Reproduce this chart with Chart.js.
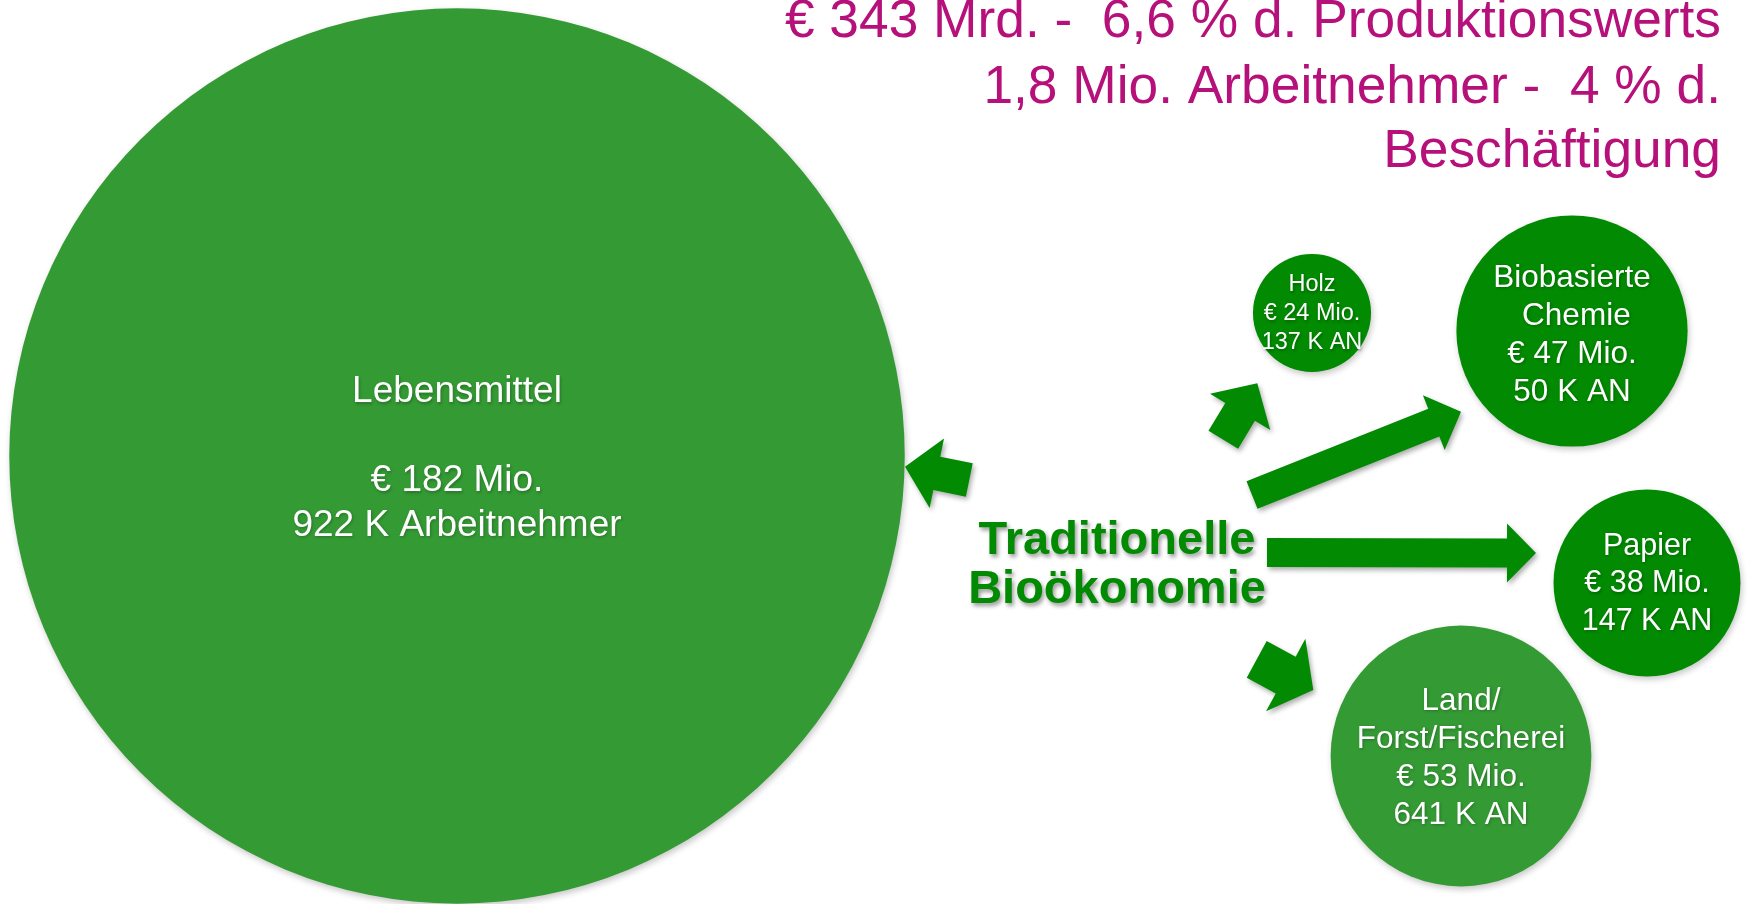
<!DOCTYPE html>
<html>
<head>
<meta charset="utf-8">
<script src="https://cdn.jsdelivr.net/npm/chart.js@4/dist/chart.umd.min.js"></script>
<style>
  html, body { margin: 0; padding: 0; background: #ffffff; overflow: hidden; }
  #c { display: block; }
</style>
</head>
<body>
<canvas id="c" width="1747" height="904"></canvas>
<script>
// ---------- DATA ----------
const sectors = ["Lebensmittel", "Holz", "Biobasierte\n Chemie", "Papier", "Land/\nForst/Fischerei"];
const valueMioEUR = [182, 24, 47, 38, 53];
const employeesK = [922, 137, 50, 147, 641];
const employeeUnit = ["K Arbeitnehmer", "K AN", "K AN", "K AN", "K AN"];
const titleLines = ["€ 343 Mrd. -  6,6 % d. Produktionswerts", "1,8 Mio. Arbeitnehmer -  4 % d.", "Beschäftigung"];
const centerLabel = ["Traditionelle", "Bioökonomie"];

// ---------- LAYOUT (positions / styles) ----------
const bubbleCenters = [[457, 456], [1312, 313], [1572, 331], [1647, 583], [1461, 756]];
const radiusPerMio = 2.46;
const bubbleColors = ["#349a34", "#028a02", "#028a02", "#028a02", "#349a34"];
const labelFont = [37, 23.5, 31.5, 30.5, 31.5];
const labelLineH = [44.5, 29, 38, 37.5, 38];
const labelDy = [3, 1, 4, 1, 2];
const blankAfterName = [true, false, false, false, false];
// arrows: tailX, tailY, tipX, tipY, shaftWidth, headWidth, headLength
const arrows = [
  [969.3, 480.0, 905.0, 466.7, 34, 71, 32.5],
  [1223.3, 439.7, 1257.3, 383.3, 34.6, 70.4, 33.3],
  [1252.0, 495.0, 1461.0, 411.7, 29.8, 58.9, 29.3],
  [1267.0, 552.5, 1536.0, 553.0, 29, 59, 29],
  [1256.7, 659.3, 1313.3, 690.0, 41.8, 82.4, 31.4]
];
const FONT = "'Liberation Sans', Arial, sans-serif";
const arrowColor = "#028a02";
const titleColor = "#b6107a";

const bubbleData = sectors.map((s, i) => ({
  x: bubbleCenters[i][0],
  y: bubbleCenters[i][1],
  r: valueMioEUR[i] * radiusPerMio
}));

const decor = {
  id: 'decor',
  beforeDatasetsDraw(chart) {
    const ctx = chart.ctx;
    ctx.save();
    ctx.shadowColor = 'rgba(0,0,0,0.22)';
    ctx.shadowBlur = 6;
    ctx.shadowOffsetX = 1.5;
    ctx.shadowOffsetY = 3;
  },
  afterDatasetsDraw(chart) {
    const ctx = chart.ctx;
    ctx.restore();
    const xs = chart.scales.x, ys = chart.scales.y;

    // arrows
    ctx.save();
    ctx.fillStyle = arrowColor;
    ctx.shadowColor = 'rgba(0,0,0,0.32)';
    ctx.shadowBlur = 5;
    ctx.shadowOffsetX = 2;
    ctx.shadowOffsetY = 3;
    arrows.forEach(a => {
      const tx = xs.getPixelForValue(a[0]), ty = ys.getPixelForValue(a[1]);
      const px = xs.getPixelForValue(a[2]), py = ys.getPixelForValue(a[3]);
      const dx = px - tx, dy = py - ty, L = Math.hypot(dx, dy);
      const ux = dx / L, uy = dy / L, nx = -uy, ny = ux;
      const sw = a[4] / 2, hw = a[5] / 2, hl = a[6];
      const bx = px - ux * hl, by = py - uy * hl;
      ctx.beginPath();
      ctx.moveTo(tx + nx * sw, ty + ny * sw);
      ctx.lineTo(bx + nx * sw, by + ny * sw);
      ctx.lineTo(bx + nx * hw, by + ny * hw);
      ctx.lineTo(px, py);
      ctx.lineTo(bx - nx * hw, by - ny * hw);
      ctx.lineTo(bx - nx * sw, by - ny * sw);
      ctx.lineTo(tx - nx * sw, ty - ny * sw);
      ctx.closePath();
      ctx.fill();
    });
    ctx.restore();

    // bubble labels
    const meta = chart.getDatasetMeta(0);
    ctx.save();
    ctx.fillStyle = '#ffffff';
    ctx.textAlign = 'center';
    ctx.textBaseline = 'middle';
    ctx.shadowColor = 'rgba(0,0,0,0.25)';
    ctx.shadowBlur = 3;
    ctx.shadowOffsetX = 1;
    ctx.shadowOffsetY = 1.5;
    meta.data.forEach((el, i) => {
      const lines = sectors[i].split('\n');
      if (blankAfterName[i]) lines.push('');
      lines.push('€ ' + valueMioEUR[i] + ' Mio.');
      lines.push(employeesK[i] + ' ' + employeeUnit[i]);
      ctx.font = labelFont[i] + 'px ' + FONT;
      const lh = labelLineH[i];
      const y0 = el.y + labelDy[i] - (lines.length - 1) * lh / 2;
      lines.forEach((t, k) => { if (t) ctx.fillText(t, el.x, y0 + k * lh); });
    });
    ctx.restore();

    // center label
    ctx.save();
    ctx.font = 'bold 47px ' + FONT;
    ctx.fillStyle = arrowColor;
    ctx.textAlign = 'center';
    ctx.textBaseline = 'alphabetic';
    ctx.shadowColor = 'rgba(0,0,0,0.4)';
    ctx.shadowBlur = 4;
    ctx.shadowOffsetX = 2;
    ctx.shadowOffsetY = 3;
    ctx.fillText(centerLabel[0], xs.getPixelForValue(1117), ys.getPixelForValue(554));
    ctx.fillText(centerLabel[1], xs.getPixelForValue(1117), ys.getPixelForValue(603));
    ctx.restore();

    // title
    ctx.save();
    ctx.font = '53.3px ' + FONT;
    ctx.fillStyle = titleColor;
    ctx.textAlign = 'right';
    ctx.textBaseline = 'alphabetic';
    const tb = [37, 103, 167];
    titleLines.forEach((t, k) => ctx.fillText(t, xs.getPixelForValue(1721), ys.getPixelForValue(tb[k])));
    ctx.restore();
  }
};

new Chart(document.getElementById('c'), {
  type: 'bubble',
  data: {
    datasets: [{
      label: 'Traditionelle Bioökonomie',
      data: bubbleData,
      backgroundColor: bubbleColors,
      borderWidth: 0,
      hoverBorderWidth: 0,
      clip: false
    }]
  },
  options: {
    responsive: false,
    devicePixelRatio: 1,
    animation: false,
    events: [],
    layout: { padding: 0, autoPadding: false },
    plugins: { legend: { display: false }, tooltip: { enabled: false }, title: { display: false } },
    scales: {
      x: { type: 'linear', min: 0, max: 1747, display: false },
      y: { type: 'linear', min: 0, max: 904, reverse: true, display: false }
    }
  },
  plugins: [decor]
});
</script>
</body>
</html>
